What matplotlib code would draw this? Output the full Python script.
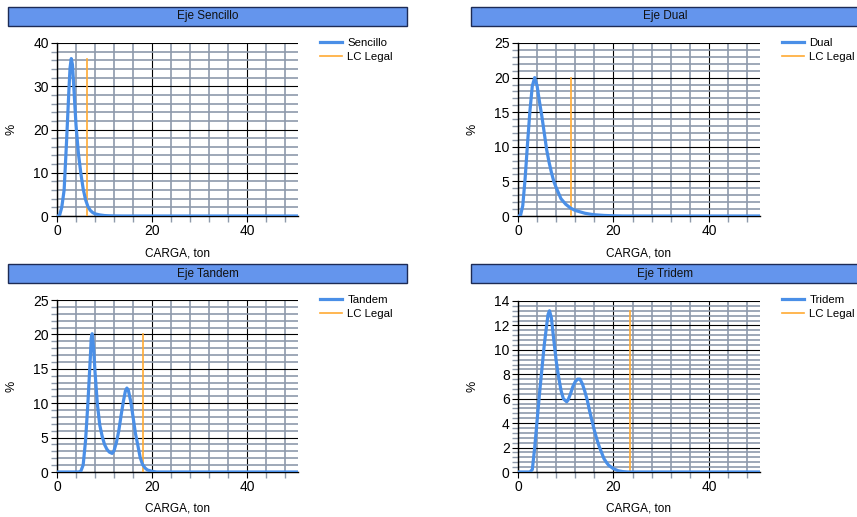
import numpy as np
import matplotlib.pyplot as plt
from matplotlib.patches import Rectangle
from matplotlib.ticker import MultipleLocator

plt.rcParams['font.family'] = ['Liberation Sans', 'DejaVu Sans']

# valores (carga en ton, porcentaje)
sencillo_x = [0, 0.5, 1.0, 1.5, 2.0, 2.5, 2.75, 3.0, 3.25, 3.5, 4.0, 4.5, 5.0, 5.5, 6.0, 6.5, 7.0, 7.5, 8.0, 9.0, 10.0, 11.0, 12.0, 14.0, 50.7]
sencillo_y = [0, 0, 2.0, 6.0, 17.0, 29.0, 34.3, 36.4, 35.0, 30.5, 21.0, 14.5, 10.0, 6.3, 3.8, 2.2, 1.3, 0.8, 0.5, 0.25, 0.1, 0.05, 0.02, 0, 0]
sencillo_lc = 6.4

dual_x = [0, 0.5, 1.0, 1.5, 2.0, 2.5, 3.0, 3.5, 4.0, 4.5, 5.0, 5.5, 6.0, 6.5, 7.0, 7.5, 8.0, 8.5, 9.0, 10.0, 11.0, 12.0, 13.0, 14.0, 15.0, 16.0, 18.0, 20.0, 22.0, 50.7]
dual_y = [0, 0, 1.5, 5.5, 10.5, 15.2, 18.8, 20.0, 18.8, 16.5, 14.4, 12.0, 9.6, 7.8, 6.3, 5.0, 4.1, 3.3, 2.5, 1.7, 1.15, 0.8, 0.6, 0.4, 0.28, 0.18, 0.08, 0.03, 0, 0]
dual_lc = 11.0

tandem_x = [0, 4.5, 5.0, 5.5, 6.0, 6.5, 7.0, 7.2, 7.4, 7.7, 8.0, 8.5, 9.0, 9.5, 10.0, 10.5, 11.0, 11.6, 12.0, 12.5, 13.0, 13.5, 14.0, 14.4, 14.7, 15.0, 15.5, 16.0, 16.5, 17.0, 17.5, 18.0, 18.5, 19.0, 20.0, 21.0, 50.7]
tandem_y = [0, 0, 0.1, 1.0, 4.5, 10.0, 16.5, 19.4, 20.1, 18.0, 14.5, 9.8, 6.8, 5.2, 4.0, 3.3, 2.9, 2.7, 3.1, 4.3, 6.0, 8.3, 10.4, 11.8, 12.2, 11.9, 10.3, 8.0, 5.6, 3.9, 2.1, 1.1, 0.6, 0.3, 0.1, 0, 0]
tandem_lc = 18.0

tridem_x = [0, 2.5, 3.0, 3.5, 4.0, 4.5, 5.0, 5.5, 6.0, 6.3, 6.6, 7.0, 7.5, 8.0, 8.5, 9.0, 9.5, 10.2, 10.5, 11.0, 11.5, 12.0, 12.5, 13.0, 13.5, 14.0, 14.5, 15.0, 15.5, 16.0, 16.5, 17.0, 17.5, 18.0, 18.5, 19.0, 20.0, 21.0, 22.0, 23.0, 50.7]
tridem_y = [0, 0, 0.2, 2.0, 4.2, 6.4, 8.4, 10.4, 12.0, 12.9, 13.2, 12.6, 10.8, 9.1, 7.8, 6.7, 6.0, 5.75, 5.9, 6.4, 7.0, 7.4, 7.6, 7.6, 7.2, 6.6, 5.9, 5.0, 4.2, 3.4, 2.7, 2.1, 1.6, 1.1, 0.8, 0.55, 0.27, 0.1, 0.03, 0, 0]
tridem_lc = 23.55

azul = '#4a8fe7'
naranja = '#ffaa33'
gris = '#8e9aab'

fig = plt.figure(figsize=(8.57, 5.17), dpi=100)
W, H = 857.0, 517.0


def barra(x0, x1, y0, y1, texto):
    r = Rectangle((x0 / W, 1 - y1 / H), (x1 - x0) / W, (y1 - y0) / H,
                  transform=fig.transFigure, facecolor='#6495ed',
                  edgecolor='#1d2b55', linewidth=1.0)
    fig.add_artist(r)
    fig.text((x0 + x1) / 2 / W, 1 - (y0 + y1) / 2 / H, texto, ha='center',
             va='center', fontsize=8.5, color='#111111')


def panel(px0, px1, py0, py1, x, y, lc, nombre, ymax, ymaj, leg_x, leg_y):
    ax = fig.add_axes([px0 / W, 1 - py1 / H, (px1 - px0) / W, (py1 - py0) / H])
    ax.plot(x, y, color=azul, linewidth=2.3, label=nombre, zorder=4,
            solid_joinstyle='round')
    ax.plot([lc, lc], [0, max(y)], color=naranja, linewidth=1.2, label='LC Legal', zorder=3)
    ax.set_xlim(0, x[-1])
    ax.set_ylim(0, ymax)
    ax.xaxis.set_major_locator(MultipleLocator(20))
    ax.xaxis.set_minor_locator(MultipleLocator(4))
    ax.yaxis.set_major_locator(MultipleLocator(ymaj))
    ax.yaxis.set_minor_locator(MultipleLocator(ymaj / 5))
    ax.grid(which='minor', color=gris, linewidth=1.2, zorder=1)
    ax.grid(which='major', color='black', linewidth=0.8, zorder=2)
    ax.set_axisbelow(True)
    for s in ['top', 'right']:
        ax.spines[s].set_visible(False)
    ax.spines['left'].set_linewidth(1.0)
    ax.spines['bottom'].set_linewidth(1.0)
    ax.tick_params(which='major', length=4, width=0.8, pad=2, labelsize=10, colors='black')
    ax.tick_params(which='minor', length=4, width=1.0, color=gris)
    ax.set_xlabel('CARGA, ton', fontsize=8.5)
    ax.set_ylabel('%', fontsize=9)
    ax.xaxis.set_label_coords(0.5, -0.18)
    ax.yaxis.set_label_coords(-0.162, 0.5)
    fig.legend(handles=ax.get_lines(), loc='upper left',
               bbox_to_anchor=(leg_x / W, 1 - leg_y / H), frameon=False,
               fontsize=8.2, handlelength=1.9, handletextpad=0.5,
               labelspacing=0.35, borderpad=0, borderaxespad=0)
    return ax


barra(8, 407, 7, 26, 'Eje Sencillo')
barra(471, 860, 7, 26, 'Eje Dual')
barra(8, 407, 264, 283, 'Eje Tandem')
barra(471, 860, 264, 283, 'Eje Tridem')

panel(57, 298, 43, 216, sencillo_x, sencillo_y, sencillo_lc, 'Sencillo', 40, 10, 320, 38)
panel(518, 760, 43, 216, dual_x, dual_y, dual_lc, 'Dual', 25, 5, 782, 38)
panel(57, 298, 300, 472, tandem_x, tandem_y, tandem_lc, 'Tandem', 25, 5, 320, 295)
panel(518, 760, 301, 472, tridem_x, tridem_y, tridem_lc, 'Tridem', 14, 2, 782, 295)

fig.savefig('out.png', dpi=100)
